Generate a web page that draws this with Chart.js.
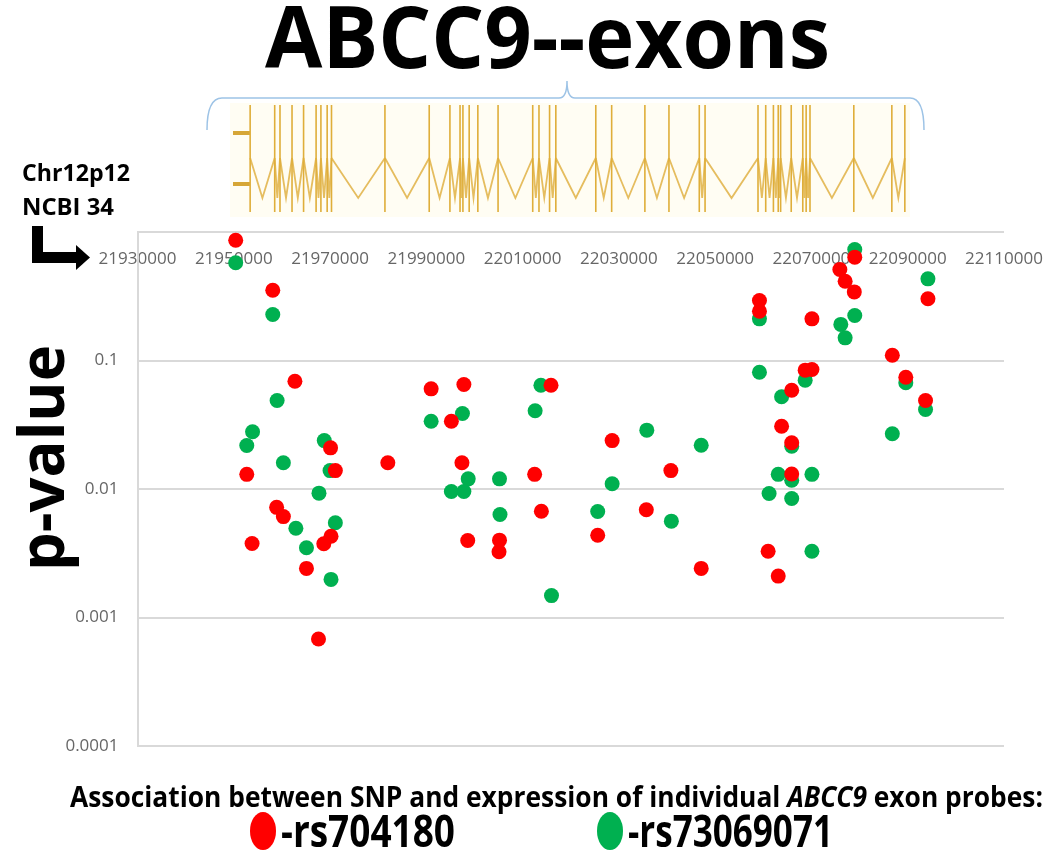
<!DOCTYPE html>
<html lang="en">
  <head>
    <meta charset="UTF-8" />
    <title>ABCC9 exons</title>
    <script src="https://cdn.jsdelivr.net/npm/chart.js"></script>
    <style>
      body {
        margin: 0;
        background: #fff;
      }
      canvas {
        display: block;
      }
    </style>
  </head>
  <body>
    <canvas id="myChart" width="1050" height="862"></canvas>

    <script>
      // rs704180 (red)
      const redPos = [
        21950400, 21958100, 21962700, 21970100, 21952700, 21971100, 21958900, 21960300,
        21953800, 21970200, 21968700, 21965100, 21967600, 21982000, 21991000, 21997800,
        21995200, 21997400, 21998600, 22005200, 22005100, 22015900, 22012500, 22013900,
        22028600, 22040800, 22035700, 22025600, 22047100, 22079000, 22075900, 22077000,
        22078900, 22059200, 22059200, 22070100, 22068700, 22070100, 22065900, 22063800,
        22065900, 22065900, 22061000, 22063100, 22094200, 22086800, 22089600, 22093700,
      ];
      const redP = [
        0.863, 0.352, 0.069, 0.0209, 0.013, 0.0139, 0.0072, 0.0061,
        0.00377, 0.00429, 0.00375, 0.00241, 0.00068, 0.016, 0.0602, 0.065,
        0.0337, 0.016, 0.00397, 0.004, 0.00325, 0.0642, 0.013, 0.00672,
        0.0238, 0.0139, 0.00689, 0.00437, 0.00241, 0.637, 0.511, 0.414,
        0.342, 0.293, 0.242, 0.211, 0.0841, 0.0851, 0.0587, 0.0308,
        0.0229, 0.0131, 0.00328, 0.0021, 0.302, 0.11, 0.0741, 0.0488,
      ];

      // rs73069071 (green)
      const greenPos = [
        21950400, 21958100, 21959000, 21953900, 21952700, 21968800, 21960300, 21970000,
        21967700, 21971100, 21962900, 21965100, 21970200, 22013800, 21991000, 21997500,
        22012600, 21998700, 21995200, 21997800, 22005200, 22005300, 22016000, 22035800,
        22047100, 22028600, 22025600, 22040900, 22079000, 22059200, 22079000, 22076100,
        22077000, 22059200, 22068700, 22063800, 22065900, 22063100, 22065900, 22070100,
        22061200, 22065900, 22070100, 22094200, 22089600, 22086800, 22093700,
      ];
      const greenP = [
        0.576, 0.228, 0.0488, 0.0279, 0.0218, 0.0238, 0.016, 0.0139,
        0.00928, 0.00546, 0.00495, 0.00349, 0.00198, 0.0642, 0.0337, 0.0387,
        0.0406, 0.012, 0.00956, 0.00956, 0.012, 0.00633, 0.00148, 0.0287,
        0.0219, 0.011, 0.00668, 0.00562, 0.731, 0.211, 0.224, 0.191,
        0.15, 0.0811, 0.0703, 0.0522, 0.0215, 0.013, 0.0117, 0.013,
        0.00923, 0.00844, 0.00328, 0.432, 0.0671, 0.0269, 0.0416,
      ];

      // exon positions of the gene track (chr12, NCBI 34)
      const exonPos = [
        21953400, 21958500, 21959600, 21962100, 21964500, 21967100, 21968100, 21969400,
        21970300, 21981400, 21990600, 21994900, 21997000, 21997600, 21998900, 22000700,
        22004900, 22012100, 22013400, 22015600, 22016900, 22025200, 22028500, 22035400,
        22040400, 22046700, 22047900, 22058900, 22060500, 22062100, 22063100, 22063600,
        22065800, 22068200, 22068900, 22069700, 22078800, 22086700, 22089400,
      ];

      const xMin = 21930000;
      const xMax = 22110000;
      const xStep = 20000;
      const yTicks = [0.0001, 0.001, 0.01, 0.1, 1];
      const yTickLabels = ["0.0001", "0.001", "0.01", "0.1", ""];

      const seriesNames = ["-rs704180", "-rs73069071"];

      const toPoints = (xs, ps) => xs.map((x, i) => ({ x: x, y: ps[i] }));

      Chart.defaults.font.family = "'Open Sans', sans-serif";

      // squeeze text to a given width (the original uses a narrow font)
      function fitText(c, txt, font, x, y, w) {
        c.save();
        c.font = font;
        const m = c.measureText(txt).width;
        c.translate(x, y);
        c.scale(w / m, 1);
        c.fillText(txt, 0, 0);
        c.restore();
      }

      const decor = {
        id: "decor",
        beforeDraw(chart) {
          const c = chart.ctx;
          c.save();
          c.fillStyle = "#fff";
          c.fillRect(0, 0, chart.width, chart.height);
          c.restore();
        },
        afterDraw(chart) {
          const c = chart.ctx;
          const xs = chart.scales.x;
          c.save();
          c.fillStyle = "#000";
          c.textAlign = "left";
          c.textBaseline = "alphabetic";

          // title
          fitText(c, "ABCC9--exons", "bold 86px 'Open Sans'", 265, 68, 565);

          // brace over the gene
          c.strokeStyle = "#9DC3E6";
          c.lineWidth = 1.5;
          c.beginPath();
          c.moveTo(207, 130);
          c.quadraticCurveTo(207, 98, 222, 98);
          c.lineTo(559, 98);
          c.quadraticCurveTo(567, 98, 567, 81);
          c.quadraticCurveTo(567, 98, 575, 98);
          c.lineTo(910, 98);
          c.quadraticCurveTo(924, 98, 924, 130);
          c.stroke();

          // gene track
          c.fillStyle = "#FFFDF3";
          c.fillRect(230, 103, 680, 114);
          c.fillStyle = "#D6A636";
          c.fillRect(233, 131, 17, 4);
          c.fillRect(233, 182, 17, 4);
          const px = exonPos.map((g) => xs.getPixelForValue(g));
          c.strokeStyle = "rgba(222, 172, 58, 0.8)";
          c.lineWidth = 1.8;
          c.beginPath();
          for (let i = 0; i < px.length - 1; i++) {
            c.moveTo(px[i], 158);
            c.lineTo((px[i] + px[i + 1]) / 2, 198);
            c.lineTo(px[i + 1], 158);
          }
          c.stroke();
          c.strokeStyle = "#DFAE3A";
          c.lineWidth = 1.6;
          c.beginPath();
          px.forEach((p) => {
            c.moveTo(p, 105);
            c.lineTo(p, 212);
          });
          c.stroke();

          // chromosome note + arrow
          c.fillStyle = "#000";
          fitText(c, "Chr12p12", "bold 24px 'Open Sans'", 22, 181, 108);
          fitText(c, "NCBI 34", "bold 24px 'Open Sans'", 22, 215, 92);
          c.fillRect(32, 226, 11, 37);
          c.fillRect(32, 252, 46, 11);
          c.beginPath();
          c.moveTo(76, 245);
          c.lineTo(90, 257.5);
          c.lineTo(76, 270);
          c.closePath();
          c.fill();

          // y axis title
          c.save();
          c.translate(64, 571);
          c.rotate(-Math.PI / 2);
          fitText(c, "p-value", "bold 62px 'Open Sans'", 0, 0, 226);
          c.restore();

          // caption with italic gene name
          const parts = [
            ["Association between SNP and expression of individual ", "bold 29px 'Open Sans'"],
            ["ABCC9", "italic bold 29px 'Open Sans'"],
            [" exon probes:", "bold 29px 'Open Sans'"],
          ];
          let total = 0;
          parts.forEach((p) => {
            c.font = p[1];
            total += c.measureText(p[0]).width;
          });
          c.save();
          c.translate(70, 807);
          c.scale(973 / total, 1);
          let cx = 0;
          parts.forEach((p) => {
            c.font = p[1];
            c.fillText(p[0], cx, 0);
            cx += c.measureText(p[0]).width;
          });
          c.restore();

          // legend
          const legX = [263, 610];
          const legW = [174, 205];
          chart.data.datasets.forEach((ds, i) => {
            c.fillStyle = ds.backgroundColor;
            c.beginPath();
            c.ellipse(legX[i], 831, 13, 19, 0, 0, Math.PI * 2);
            c.fill();
            c.fillStyle = "#000";
            fitText(c, ds.label, "bold 44px 'Open Sans'", legX[i] + 18, 847, legW[i]);
          });
          c.restore();
        },
      };

      const ctx = document.getElementById("myChart");

      const myChart = new Chart(ctx, {
        type: "scatter",
        data: {
          datasets: [
            {
              label: seriesNames[0],
              data: toPoints(redPos, redP),
              backgroundColor: "#FF0000",
              borderWidth: 0,
              pointRadius: 7.5,
              pointHoverRadius: 7.5,
            },
            {
              label: seriesNames[1],
              data: toPoints(greenPos, greenP),
              backgroundColor: "#00B050",
              borderWidth: 0,
              pointRadius: 7.5,
              pointHoverRadius: 7.5,
            },
          ],
        },
        options: {
          responsive: false,
          animation: false,
          clip: false,
          layout: {
            padding: { top: 232, left: 0, right: 46, bottom: 116 },
          },
          plugins: {
            legend: { display: false },
            tooltip: { enabled: false },
          },
          scales: {
            x: {
              type: "linear",
              position: "top",
              min: xMin,
              max: xMax,
              grid: { display: false, drawTicks: false },
              border: { display: false },
              ticks: {
                stepSize: xStep,
                padding: 17,
                mirror: true, // labels inside the plot, just under the top line
                maxRotation: 0,
                autoSkip: false,
                color: "#666",
                font: { size: 17 },
                callback: (v) => String(v),
              },
              afterFit: (s) => {
                s.height = 0;
                s.paddingLeft = 0;
                s.paddingRight = 0;
              },
            },
            y: {
              type: "logarithmic",
              min: yTicks[0],
              max: yTicks[yTicks.length - 1],
              grid: { color: "#D9D9D9", lineWidth: 2, drawTicks: false },
              border: { display: true, color: "#D9D9D9", width: 2 },
              ticks: {
                padding: 19,
                color: "#666",
                font: { size: 17 },
                callback: (v, i) => yTickLabels[i],
              },
              afterBuildTicks: (s) => {
                s.ticks = yTicks.map((v) => ({ value: v }));
              },
              afterFit: (s) => {
                s.width = 137.5;
              },
            },
          },
        },
        plugins: [decor],
      });
    </script>
  </body>
</html>
